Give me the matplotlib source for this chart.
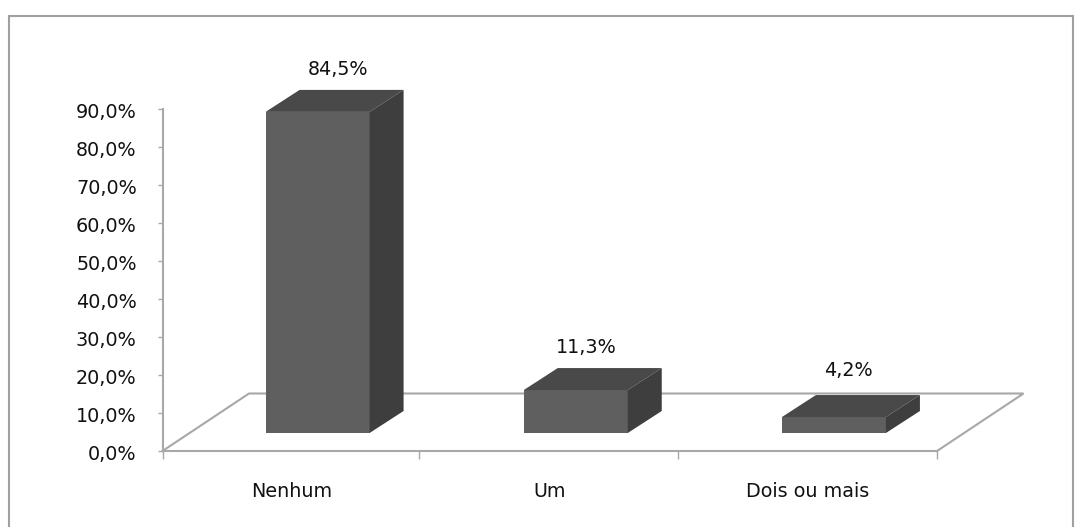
import matplotlib
matplotlib.use("Agg")
import matplotlib.pyplot as plt
from matplotlib.patches import Polygon, Rectangle
from matplotlib.transforms import ScaledTranslation

categories = ["Nenhum", "Um", "Dois ou mais"]
values = [84.5, 11.3, 4.2]
value_labels = ["84,5%", "11,3%", "4,2%"]
y_ticks = [0, 10, 20, 30, 40, 50, 60, 70, 80, 90]
y_tick_labels = ["0,0%", "10,0%", "20,0%", "30,0%", "40,0%", "50,0%", "60,0%", "70,0%", "80,0%", "90,0%"]

W, H = 1081, 527
AX_L, AX_R, AX_T, AX_B = 162.5, 937.0, 109.0, 451.0
GREY = "#a8a8a8"
FRONT, TOP, SIDE = "#5f5f5f", "#494949", "#3e3e3e"
TXT = "#111111"
FS = 13.8

plt.rcParams["font.family"] = "DejaVu Sans"
fig = plt.figure(figsize=(W / 100, H / 100), dpi=100, facecolor="white")
fig.add_artist(Rectangle((9 / W, -0.02), (1073 - 9) / W, 1.02 - 16 / H, transform=fig.transFigure,
                         facecolor="none", edgecolor="#a0a0a0", linewidth=1.5, zorder=-1))
ax = fig.add_axes([AX_L / W, 1 - AX_B / H, (AX_R - AX_L) / W, (AX_B - AX_T) / H])
ax.patch.set_alpha(0)
ax.set_xlim(0, 3)
ax.set_ylim(0, 90)

px = 3 / (AX_R - AX_L)          # data units per pixel, x
py = 90 / (AX_B - AX_T)         # data units per pixel, y

# floor
fdx, fdy = 86.5 * px, 57.5 * py
ax.plot([0, fdx, 3 + fdx, 3], [0, fdy, fdy, 0], color=GREY, lw=1.5, clip_on=False, zorder=1,
        solid_joinstyle="miter")

# 3D bars
bar_w = 104 * px
bar_shift = 26 * px
base = 18 * py
dx, dy = 34 * px, 22 * py
label_dx = [20, 11, 14]
label_gap = [20, 21, 25]
positions = [i + 0.5 + bar_shift for i in range(len(values))]
for x, v, lab, ldx, gap in zip(positions, values, value_labels, label_dx, label_gap):
    ax.bar(x, v, bottom=base, width=bar_w, color=FRONT, edgecolor="none", zorder=3)
    l, r, t, b = x - bar_w / 2, x + bar_w / 2, base + v, base
    ax.add_patch(Polygon([(l, t), (r, t), (r + dx, t + dy), (l + dx, t + dy)], closed=True,
                         facecolor=TOP, edgecolor="none", clip_on=False, zorder=3))
    ax.add_patch(Polygon([(r, b), (r + dx, b + dy), (r + dx, t + dy), (r, t)], closed=True,
                         facecolor=SIDE, edgecolor="none", clip_on=False, zorder=3))
    ax.text(x + ldx * px, t + dy + gap * py, lab, ha="center", va="center", fontsize=FS, color=TXT, clip_on=False)

# axes
for s in ("top", "right"):
    ax.spines[s].set_visible(False)
for s in ("left", "bottom"):
    ax.spines[s].set_color(GREY)
    ax.spines[s].set_linewidth(1.5)
ax.set_yticks(y_ticks)
ax.set_yticklabels(y_tick_labels, fontsize=FS, color=TXT)
ax.tick_params(axis="y", length=3.6, width=1.0, color=GREY, pad=15)
for lbl in ax.get_yticklabels():
    lbl.set_transform(lbl.get_transform() + ScaledTranslation(0, -2 / 100, fig.dpi_scale_trans))
ax.set_xticks([0, 0.992, 1.996, 3])
ax.set_xticklabels([])
ax.tick_params(axis="x", which="major", length=5.8, width=1.0, color=GREY)
ax.set_xticks([i + 0.5 for i in range(len(categories))], minor=True)
ax.set_xticklabels(categories, minor=True, fontsize=FS, color=TXT)
ax.tick_params(axis="x", which="minor", length=0, pad=22)

fig.savefig("out.png", dpi=100, facecolor="white")
